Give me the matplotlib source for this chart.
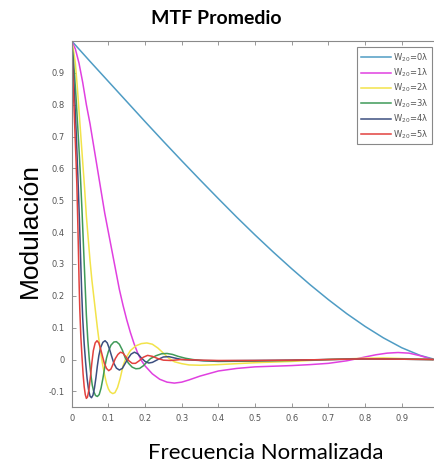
import matplotlib
matplotlib.use("Agg")
import matplotlib.pyplot as plt

# W20 = 0 lambda
x_w0 = [0, 0.05, 0.1, 0.15, 0.2, 0.25, 0.3, 0.35, 0.4, 0.45, 0.5, 0.55, 0.6,
        0.65, 0.7, 0.75, 0.8, 0.85, 0.9, 0.95, 0.985]
y_w0 = [1.0, 0.936, 0.873, 0.810, 0.747, 0.685, 0.624, 0.564, 0.505, 0.447,
        0.391, 0.337, 0.285, 0.235, 0.188, 0.144, 0.104, 0.068, 0.037, 0.013,
        0.002]

# W20 = 1 lambda
x_w1 = [0, 0.01, 0.02, 0.03, 0.04, 0.05, 0.06, 0.07, 0.08, 0.09, 0.10, 0.11,
        0.12, 0.13, 0.14, 0.15, 0.16, 0.17, 0.18, 0.19, 0.20, 0.22, 0.24, 0.26,
        0.28, 0.30, 0.32, 0.35, 0.40, 0.45, 0.50, 0.55, 0.60, 0.65, 0.70, 0.75,
        0.78, 0.80, 0.83, 0.86, 0.89, 0.92, 0.95, 0.985]
y_w1 = [1.0, 0.975, 0.93, 0.87, 0.80, 0.74, 0.67, 0.60, 0.53, 0.46, 0.40, 0.34,
        0.28, 0.22, 0.17, 0.125, 0.085, 0.05, 0.02, -0.003, -0.02, -0.045,
        -0.062, -0.071, -0.074, -0.071, -0.064, -0.052, -0.036, -0.028, -0.023,
        -0.021, -0.019, -0.016, -0.012, -0.004, 0.003, 0.008, 0.015, 0.02,
        0.022, 0.02, 0.012, 0.0]

# W20 = 2 lambda
x_w2 = [0, 0.005, 0.01, 0.015, 0.02, 0.025, 0.03, 0.035, 0.04, 0.045, 0.05,
        0.055, 0.06, 0.065, 0.07, 0.075, 0.08, 0.085, 0.09, 0.095, 0.10, 0.105,
        0.112, 0.118, 0.125, 0.132, 0.14, 0.148, 0.16, 0.175, 0.19, 0.205, 0.22,
        0.235, 0.25, 0.265, 0.28, 0.30, 0.32, 0.35, 0.40, 0.45, 0.5, 0.6, 0.7,
        0.8, 0.85, 0.9, 0.985]
y_w2 = [1.0, 0.97, 0.93, 0.86, 0.78, 0.70, 0.62, 0.54, 0.45, 0.38, 0.31, 0.25,
        0.20, 0.15, 0.10, 0.055, 0.015, -0.02, -0.05, -0.075, -0.092, -0.102,
        -0.107, -0.104, -0.088, -0.06, -0.02, 0.005, 0.028, 0.043, 0.05, 0.052,
        0.048, 0.036, 0.02, 0.004, -0.007, -0.013, -0.017, -0.018, -0.016,
        -0.013, -0.01, -0.006, 0.0, 0.004, 0.005, 0.003, 0.0]

# W20 = 3 lambda
x_w3 = [0, 0.004, 0.008, 0.012, 0.016, 0.02, 0.024, 0.028, 0.032, 0.036, 0.04,
        0.044, 0.048, 0.052, 0.056, 0.06, 0.065, 0.07, 0.075, 0.08, 0.085, 0.09,
        0.095, 0.10, 0.107, 0.115, 0.122, 0.13, 0.138, 0.146, 0.155, 0.165,
        0.175, 0.185, 0.195, 0.205, 0.215, 0.23, 0.245, 0.26, 0.275, 0.29, 0.31,
        0.33, 0.36, 0.40, 0.5, 0.6, 0.7, 0.8, 0.9, 0.985]
y_w3 = [1.0, 0.95, 0.89, 0.82, 0.74, 0.66, 0.57, 0.47, 0.36, 0.25, 0.14, 0.06,
        0.0, -0.045, -0.08, -0.10, -0.113, -0.116, -0.11, -0.09, -0.06, -0.025,
        0.005, 0.025, 0.045, 0.055, 0.056, 0.048, 0.03, 0.005, -0.012, -0.024,
        -0.029, -0.028, -0.02, -0.008, 0.003, 0.012, 0.018, 0.019, 0.016, 0.01,
        0.004, 0.0, -0.004, -0.006, -0.005, -0.003, 0.0, 0.002, 0.001, 0.0]

# W20 = 4 lambda
x_w4 = [0, 0.003, 0.006, 0.009, 0.012, 0.015, 0.018, 0.021, 0.024, 0.027, 0.030,
        0.034, 0.038, 0.042, 0.046, 0.05, 0.054, 0.058, 0.062, 0.066, 0.07,
        0.074, 0.079, 0.085, 0.091, 0.097, 0.103, 0.109, 0.115, 0.122, 0.13,
        0.138, 0.146, 0.154, 0.162, 0.171, 0.18, 0.19, 0.20, 0.21, 0.22, 0.235,
        0.25, 0.265, 0.28, 0.30, 0.35, 0.4, 0.5, 0.6, 0.7, 0.8, 0.9, 0.985]
y_w4 = [1.0, 0.94, 0.87, 0.80, 0.72, 0.63, 0.54, 0.44, 0.33, 0.22, 0.13, 0.05,
        -0.01, -0.06, -0.095, -0.115, -0.12, -0.112, -0.09, -0.058, -0.02,
        0.012, 0.038, 0.054, 0.059, 0.052, 0.033, 0.01, -0.012, -0.027, -0.033,
        -0.028, -0.012, 0.004, 0.017, 0.023, 0.018, 0.005, -0.006, -0.011,
        -0.009, 0.0, 0.008, 0.009, 0.005, 0.0, -0.003, -0.004, -0.003, -0.002,
        0.0, 0.002, 0.001, 0.0]

# W20 = 5 lambda
x_w5 = [0, 0.002, 0.004, 0.006, 0.008, 0.010, 0.012, 0.014, 0.016, 0.018, 0.020,
        0.022, 0.025, 0.028, 0.031, 0.034, 0.037, 0.040, 0.043, 0.047, 0.051,
        0.055, 0.059, 0.064, 0.069, 0.074, 0.079, 0.084, 0.089, 0.095, 0.101,
        0.107, 0.113, 0.119, 0.126, 0.133, 0.14, 0.148, 0.156, 0.165, 0.174,
        0.184, 0.195, 0.207, 0.22, 0.235, 0.25, 0.27, 0.3, 0.35, 0.4, 0.5, 0.6,
        0.7, 0.8, 0.9, 0.985]
y_w5 = [1.0, 0.93, 0.86, 0.80, 0.74, 0.68, 0.62, 0.55, 0.46, 0.36, 0.25, 0.16,
        0.07, 0.01, -0.045, -0.085, -0.11, -0.122, -0.118, -0.095, -0.055,
        -0.01, 0.028, 0.052, 0.059, 0.052, 0.033, 0.01, -0.012, -0.028, -0.035,
        -0.03, -0.014, 0.003, 0.016, 0.023, 0.02, 0.008, -0.004, -0.012,
        -0.012, -0.004, 0.007, 0.013, 0.01, 0.003, -0.002, -0.003, 0.0, -0.002,
        -0.003, -0.003, -0.002, 0.0, 0.002, 0.001, 0.0]

labels = [r"W$_{20}$=0λ", r"W$_{20}$=1λ", r"W$_{20}$=2λ",
          r"W$_{20}$=3λ", r"W$_{20}$=4λ", r"W$_{20}$=5λ"]
colors = ["#4f9cc4", "#e040e0", "#f2e34a", "#3f9a58", "#3d4f80", "#e2413e"]

xs = [x_w0, x_w1, x_w2, x_w3, x_w4, x_w5]
ys = [y_w0, y_w1, y_w2, y_w3, y_w4, y_w5]

fig = plt.figure(figsize=(4.34, 4.66), dpi=100)
# axes extends a bit past the right edge (image is cropped there)
ax = fig.add_axes([71.7 / 434, (466 - 407.3) / 466, 366.7 / 434, 366.3 / 466])

for x, y, c, lab in zip(xs, ys, colors, labels):
    ax.plot(x, y, color=c, lw=1.1, label=lab)

ax.set_xlim(0, 1)
ax.set_ylim(-0.15, 1.0)
ax.set_xticks([0, 0.1, 0.2, 0.3, 0.4, 0.5, 0.6, 0.7, 0.8, 0.9])
ax.set_xticklabels(["0", "0.1", "0.2", "0.3", "0.4", "0.5", "0.6", "0.7", "0.8", "0.9"])
ax.set_yticks([-0.1, 0, 0.1, 0.2, 0.3, 0.4, 0.5, 0.6, 0.7, 0.8, 0.9])
ax.set_yticklabels(["-0.1", "0", "0.1", "0.2", "0.3", "0.4", "0.5", "0.6", "0.7", "0.8", "0.9"])
ax.tick_params(direction="in", length=3, width=0.6, colors="#888888",
               labelcolor="#555555", labelsize=6, top=True, right=True, pad=5)
for s in ax.spines.values():
    s.set_color("#8a8a8a")
    s.set_linewidth(0.8)

leg = ax.legend(loc="upper right", bbox_to_anchor=(432.3 / 434, 1 - 47.3 / 466),
                bbox_transform=fig.transFigure, borderaxespad=0, fontsize=6,
                handlelength=3.6, labelspacing=0.35, handletextpad=0.3,
                borderpad=0.45, fancybox=False, framealpha=1)
leg.get_frame().set_edgecolor("#888888")
leg.get_frame().set_linewidth(0.8)
for t in leg.get_texts():
    t.set_color("#555555")

fig.text(216 / 434, 1 - 18 / 466, "MTF Promedio", ha="center", va="center",
         fontsize=14, fontweight="bold", family="Lato")
fig.text(30 / 434, 1 - 230 / 466, "Modulación", ha="center", va="center",
         rotation=90, fontsize=19, family="Liberation Sans")
fig.text(266 / 434, 1 - 453 / 466, "Frecuencia Normalizada", ha="center",
         va="center", fontsize=16, family="Lato")

fig.savefig("out.png", dpi=100)
